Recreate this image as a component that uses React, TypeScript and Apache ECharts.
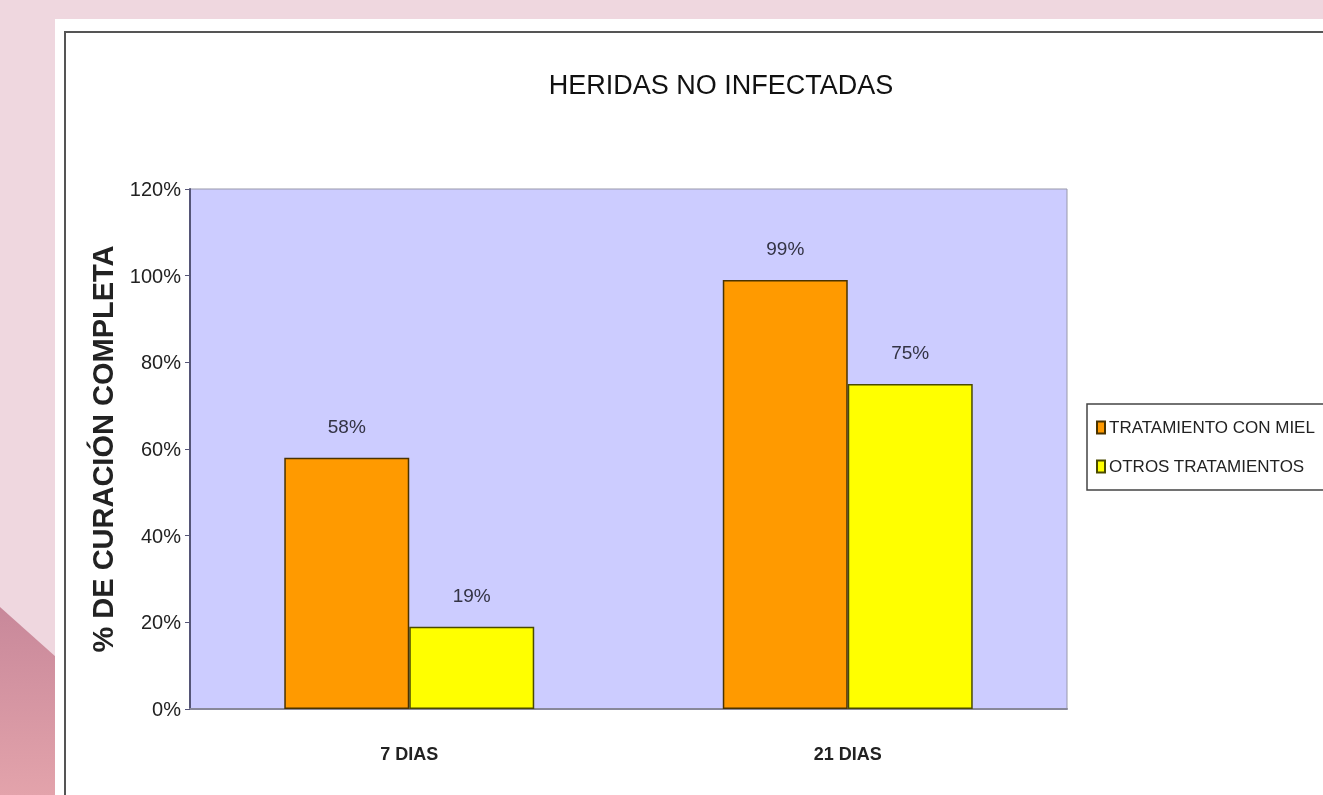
import React, { useEffect, useRef } from "react";
import * as echarts from "echarts";

const categories = ["7 DIAS", "21 DIAS"];
const seriesNames = ["TRATAMIENTO CON MIEL", "OTROS TRATAMIENTOS"];
const honeyValues = [58, 99];
const otherValues = [19, 75];
const yTicks = { min: 0, max: 120, interval: 20 };

const FONT = "'Liberation Sans', Arial, sans-serif";

export default function App() {
  const ref = useRef<HTMLDivElement>(null);

  useEffect(() => {
    if (!ref.current) return;
    const chart = echarts.init(ref.current, undefined, { renderer: "svg" });
    const barBase = {
      type: "bar" as const,
      barGap: "0%",
      barCategoryGap: "43%",
      label: {
        show: true,
        position: "top" as const,
        distance: 22,
        formatter: "{c}%",
        fontFamily: FONT,
        fontSize: 19,
        color: "#333344",
      },
    };
    chart.setOption({
      animation: false,
      backgroundColor: "transparent",
      graphic: [
        {
          type: "rect",
          z: -10,
          silent: true,
          shape: { x: 0, y: 0, width: 1323, height: 795 },
          style: { fill: "#EFD7DF" },
        },
        {
          type: "polygon",
          z: -9,
          silent: true,
          shape: { points: [[0, 607], [56, 657], [56, 795], [0, 795]] },
          style: {
            fill: new echarts.graphic.LinearGradient(0, 0, 0, 1, [
              { offset: 0, color: "#C8889A" },
              { offset: 1, color: "#E3A3AB" },
            ]),
          },
        },
        {
          type: "rect",
          z: -8,
          silent: true,
          shape: { x: 55, y: 19, width: 1300, height: 800 },
          style: { fill: "#FFFFFF" },
        },
        {
          type: "rect",
          z: -7,
          silent: true,
          shape: { x: 65, y: 32, width: 1300, height: 800 },
          style: { fill: "none", stroke: "#555555", lineWidth: 2 },
        },
      ],
      title: {
        text: "HERIDAS NO INFECTADAS",
        left: 716,
        top: 66,
        textAlign: "center",
        textStyle: {
          fontFamily: FONT,
          fontSize: 27,
          fontWeight: "normal",
          color: "#111111",
        },
      },
      legend: {
        orient: "vertical",
        left: 1087,
        top: 404,
        padding: [15, 40, 15, 9],
        itemWidth: 8,
        itemHeight: 12,
        itemGap: 22,
        borderColor: "#444444",
        borderWidth: 1.5,
        backgroundColor: "#FFFFFF",
        icon: "rect",
        textStyle: { fontFamily: FONT, fontSize: 17, color: "#222222", padding: [0, 0, 0, -1] },
        data: seriesNames,
      },
      grid: {
        left: 190,
        top: 189,
        width: 877,
        height: 520,
        show: true,
        backgroundColor: "#CCCCFF",
        borderColor: "#9999AA",
        borderWidth: 1,
      },
      xAxis: {
        type: "category",
        data: categories,
        axisLine: { lineStyle: { color: "#888899", width: 2 } },
        axisTick: { show: false },
        axisLabel: {
          margin: 36,
          fontFamily: FONT,
          fontWeight: "bold",
          fontSize: 18,
          color: "#222222",
        },
      },
      yAxis: {
        type: "value",
        min: yTicks.min,
        max: yTicks.max,
        interval: yTicks.interval,
        name: "% DE CURACIÓN COMPLETA",
        nameLocation: "middle",
        nameGap: 73,
        nameTextStyle: {
          fontFamily: FONT,
          fontWeight: "bold",
          fontSize: 29,
          color: "#222222",
        },
        axisLine: { show: true, lineStyle: { color: "#555577", width: 2 } },
        axisTick: { show: true, length: 5, lineStyle: { color: "#555577" } },
        splitLine: { show: false },
        axisLabel: {
          formatter: "{value}%",
          margin: 9,
          fontFamily: FONT,
          fontSize: 20,
          color: "#222222",
        },
      },
      series: [
        {
          ...barBase,
          name: seriesNames[0],
          data: honeyValues,
          itemStyle: { color: "#FF9A00", borderColor: "#4A3300", borderWidth: 1.5 },
        },
        {
          ...barBase,
          name: seriesNames[1],
          data: otherValues,
          itemStyle: { color: "#FFFF00", borderColor: "#4A4A00", borderWidth: 1.5 },
        },
      ],
    });
    return () => chart.dispose();
  }, []);

  return (
    <div
      ref={ref}
      style={{ position: "fixed", left: 0, top: 0, width: 1323, height: 795 }}
    />
  );
}
